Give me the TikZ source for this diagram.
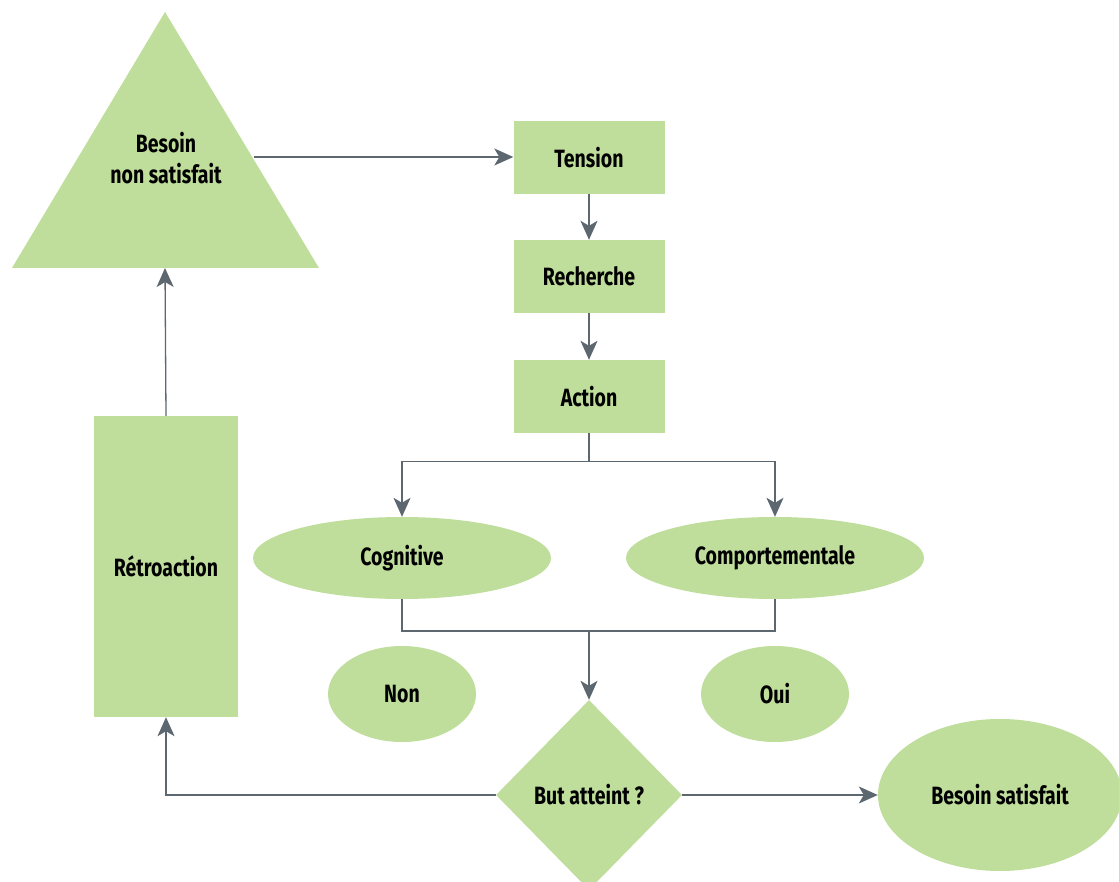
\documentclass[tikz,border=0pt]{standalone}
\usepackage{fontspec}
\newfontfamily\labelfont{Fira Sans}[FakeStretch=0.78]
\usetikzlibrary{arrows.meta,shapes.geometric}

\definecolor{leaf}{RGB}{191,221,155}
\definecolor{slate}{RGB}{93,103,112}

\tikzset{
	txt/.style={font=\labelfont\bfseries\fontsize{25}{31}\selectfont, text=black},
	box/.style={txt, rectangle, fill=leaf, inner sep=0pt},
	oval/.style={txt, ellipse, fill=leaf, inner sep=0pt},
	flow/.style={draw=slate, line width=1.3pt, -{Stealth[length=19pt,width=17pt,inset=5pt]}},
	link/.style={draw=slate, line width=1.3pt}
}

\begin{document}
\begin{tikzpicture}[x=1pt, y=-1pt]
	\useasboundingbox (0,0) rectangle (1119,882);
	% triangle
	\fill[leaf] (165,12) -- (319,268) -- (12,268) -- cycle;
	\node[txt, align=center] (besoin) at (166,158) {Besoin\\non satisfait};
	\coordinate (triR) at (254,157);
	\coordinate (triB) at (165,268);

	\node[box, minimum width=151pt, minimum height=73pt] (tension) at (589,157.5) {Tension};
	\node[box, minimum width=151pt, minimum height=73pt] (recherche) at (589,276.5) {Recherche};
	\node[box, minimum width=151pt, minimum height=73pt] (action) at (589,396.5) {Action};

	\node[oval, minimum width=298pt, minimum height=82pt] (cognitive) at (402,558) {Cognitive};
	\node[oval, minimum width=298pt, minimum height=82pt] (comport) at (775,558) {Comportementale};
	\node[oval, minimum width=148pt, minimum height=96pt] (non) at (402,694) {Non};
	\node[oval, minimum width=148pt, minimum height=96pt] (oui) at (775,694) {Oui};

	\node[txt, diamond, fill=leaf, inner sep=0pt, aspect=1, minimum width=186pt, minimum height=190pt] (but) at (589,795) {But atteint ?};
	\node[oval, minimum width=244pt, minimum height=152pt] (satisfait) at (1000,795) {Besoin satisfait};
	\node[box, minimum width=144pt, minimum height=301pt] (retro) at (166,566.5) {Rétroaction};

	\coordinate (merge) at (589,631);

	\draw[flow] (triR) -- (triR -| tension.west);
	\draw[flow] (tension) -- (recherche);
	\draw[flow] (recherche) -- (action);
	\draw[flow] (action.south) -- ++(0,28) -| (cognitive.north);
	\draw[flow] (action.south) -- ++(0,28) -| (comport.north);
	\draw[link] (cognitive.south) |- (merge) -| (comport.south);
	\draw[flow] (merge) -- (but.north);
	\draw[flow] (but.east) -- (satisfait.west);
	\draw[flow] (but.west) -| (retro.south);
	\draw[flow] (retro.north) -- (triB);
\end{tikzpicture}
\end{document}
